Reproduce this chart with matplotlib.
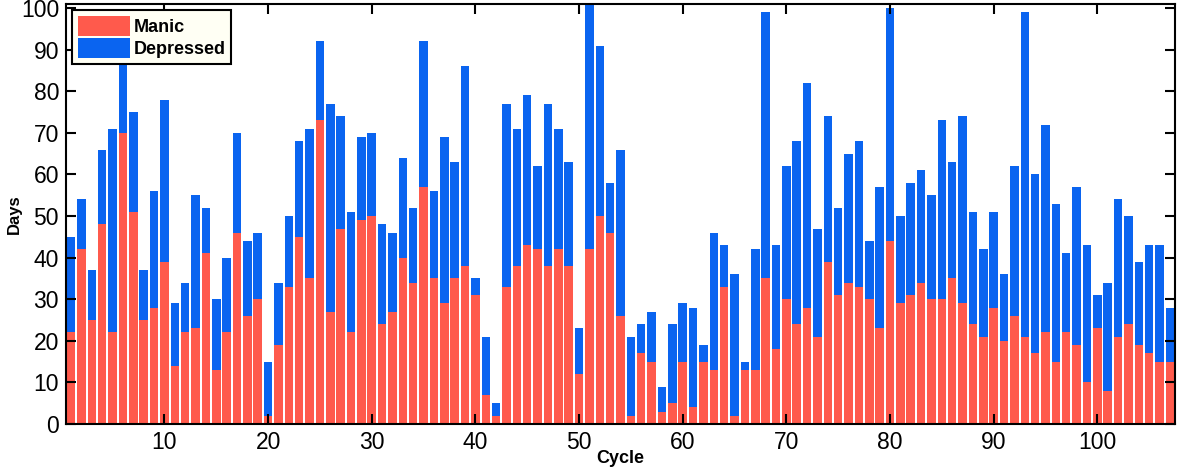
import numpy as np
import matplotlib.pyplot as plt

# cycles and days per episode
cycles = np.arange(1, 108)
manic = [22, 42, 25, 48, 22, 70, 51, 25, 28, 39,
         14, 22, 23, 41, 13, 22, 46, 26, 30, 2,
         19, 33, 45, 35, 73, 27, 47, 22, 49, 50,
         24, 27, 40, 34, 57, 35, 29, 35, 38, 31,
         7, 2, 33, 38, 43, 42, 38, 42, 38, 12,
         42, 50, 46, 26, 2, 17, 15, 3, 5, 15,
         4, 15, 13, 33, 2, 13, 13, 35, 18, 30,
         24, 28, 21, 39, 31, 34, 33, 30, 23, 44,
         29, 31, 34, 30, 30, 35, 29, 24, 21, 28,
         20, 26, 21, 17, 22, 15, 22, 19, 10, 23,
         8, 21, 24, 19, 17, 15, 15]
total = [45, 54, 37, 66, 71, 88, 75, 37, 56, 78,
         29, 34, 55, 52, 30, 40, 70, 44, 46, 15,
         34, 50, 68, 71, 92, 77, 74, 51, 69, 70,
         48, 46, 64, 52, 92, 56, 69, 63, 86, 35,
         21, 5, 77, 71, 79, 62, 77, 71, 63, 23,
         101, 91, 58, 66, 21, 24, 27, 9, 24, 29,
         28, 19, 46, 43, 36, 15, 42, 99, 43, 62,
         68, 82, 47, 74, 52, 65, 68, 44, 57, 100,
         50, 58, 61, 55, 73, 63, 74, 51, 42, 51,
         36, 62, 99, 60, 72, 53, 41, 57, 43, 31,
         34, 54, 50, 39, 43, 43, 28]
depressed = np.array(total) - np.array(manic)

plt.rcParams['font.family'] = ['Liberation Sans', 'DejaVu Sans']

fig = plt.figure(figsize=(11.78, 4.69), dpi=100)
ax = fig.add_axes([0.056, 0.096, 0.9415, 0.8955])

ax.bar(cycles, manic, width=0.82, color='#FF5A4C', label='Manic')
ax.bar(cycles, depressed, width=0.82, bottom=manic, color='#0A64F0', label='Depressed')

ax.set_xlim(0.5, 107.5)
ax.set_ylim(0, 101)
ax.set_xticks(np.arange(10, 101, 10))
ax.set_yticks(np.arange(0, 101, 10))
ax.tick_params(direction='in', length=7, width=1.5, labelsize=16.5,
               top=True, right=True, pad=5)
for s in ax.spines.values():
    s.set_linewidth(1.5)

ax.set_xlabel('Cycle', fontsize=13, fontweight='bold', labelpad=-3)
ax.set_ylabel('Days', fontsize=12, fontweight='bold', labelpad=-1)

leg = ax.legend(loc='upper left', prop={'weight': 'bold', 'size': 13},
                frameon=True, fancybox=False, borderaxespad=0.35,
                handlelength=2.9, handleheight=1.35, handletextpad=0.2,
                labelspacing=0.12, borderpad=0.3)
leg.get_frame().set_edgecolor('black')
leg.get_frame().set_linewidth(1.5)
leg.get_frame().set_facecolor('#FFFFF4')
leg.get_frame().set_alpha(1)

fig.savefig('out.png', dpi=100)
